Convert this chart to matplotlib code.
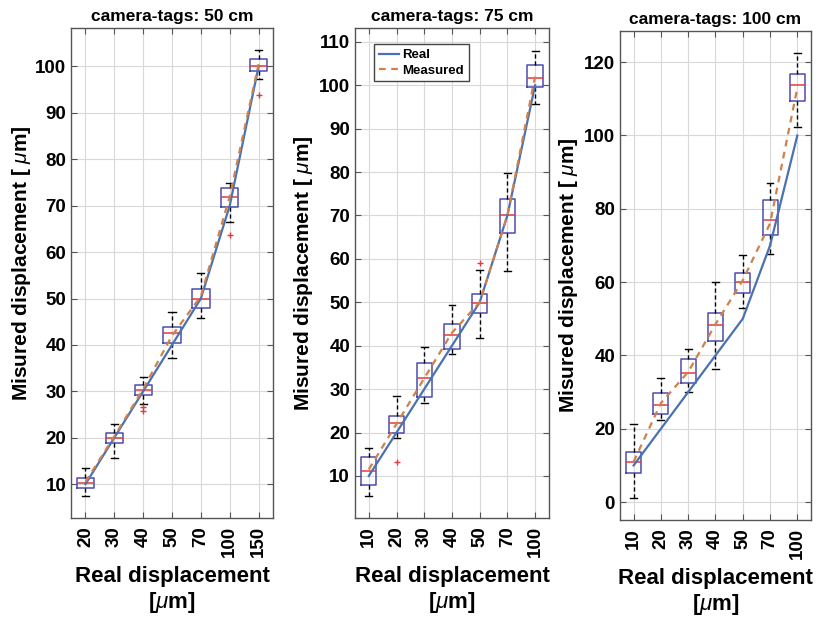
import numpy as np
import matplotlib.pyplot as plt

plt.rcParams['font.family'] = ['Liberation Sans', 'DejaVu Sans']
plt.rcParams['mathtext.fontset'] = 'custom'
plt.rcParams['mathtext.it'] = 'Liberation Sans:italic'

# x tick labels of each distance
labels_50 = ['20', '30', '40', '50', '70', '100', '150']
labels_75 = ['10', '20', '30', '40', '50', '70', '100']
labels_100 = ['10', '20', '30', '40', '50', '70', '100']

real_vals = [10, 20, 30, 40, 50, 70, 100]

# 50 cm
med_50 = [10.3, 20.0, 30.3, 42.5, 50.0, 71.8, 100.0]
q1_50 = [9.2, 18.8, 29.2, 40.4, 48.0, 69.7, 99.0]
q3_50 = [11.3, 21.0, 31.3, 43.8, 52.0, 73.8, 101.6]
lo_50 = [7.4, 15.6, 27.2, 37.2, 45.8, 66.5, 97.3]
hi_50 = [13.4, 23.0, 33.0, 47.0, 55.5, 75.0, 103.5]
fl_50 = [[], [], [25.7, 26.6], [], [], [63.7], [93.8]]
meas_50 = [10.5, 20.3, 30.5, 42.0, 50.5, 72.0, 100.5]

# 75 cm
med_75 = [11.2, 22.2, 32.6, 42.5, 49.9, 70.1, 101.7]
q1_75 = [7.9, 19.9, 28.2, 39.3, 47.6, 66.0, 99.6]
q3_75 = [14.4, 23.8, 36.0, 45.0, 51.9, 73.8, 104.7]
lo_75 = [5.4, 18.8, 26.8, 38.0, 41.8, 57.2, 95.7]
hi_75 = [16.4, 28.4, 39.7, 49.4, 57.5, 79.8, 107.9]
fl_75 = [[], [13.2], [], [], [59.0], [], []]
meas_75 = [11.5, 22.0, 32.5, 43.0, 50.0, 70.0, 102.0]

# 100 cm
med_100 = [10.9, 26.5, 35.2, 48.3, 60.0, 76.9, 113.8]
q1_100 = [7.9, 24.0, 32.5, 43.9, 57.0, 72.9, 109.4]
q3_100 = [13.7, 29.7, 39.0, 51.6, 62.5, 82.4, 116.8]
lo_100 = [1.1, 22.4, 30.0, 36.3, 52.9, 67.7, 102.3]
hi_100 = [21.3, 33.8, 41.7, 60.0, 67.4, 87.0, 122.5]
fl_100 = [[], [], [], [], [], [], []]
meas_100 = [11.0, 27.0, 35.5, 48.5, 60.5, 76.0, 113.0]

BOX = '#4b4bb0'
MED = '#e03c3c'
REAL = '#4a72b0'
MEAS = '#d0804a'


def draw(ax, labels, med, q1, q3, lo, hi, fl, meas, title, ylim, yticks,
         width=0.55):
    stats = []
    for i in range(len(med)):
        stats.append(dict(med=med[i], q1=q1[i], q3=q3[i],
                          whislo=lo[i], whishi=hi[i], fliers=fl[i]))
    pos = np.arange(1, len(med) + 1)
    ax.bxp(stats, positions=pos, widths=width, capwidths=0.25,
           boxprops=dict(color=BOX, lw=1.1),
           medianprops=dict(color=MED, lw=1.1),
           whiskerprops=dict(color='black', lw=1.0, ls=(0, (3, 2))),
           capprops=dict(color='black', lw=1.0),
           flierprops=dict(marker='+', markeredgecolor=MED, markersize=5,
                           markeredgewidth=1.0, ls='none'))
    ax.plot(pos, real_vals, color=REAL, lw=1.6, label='Real', zorder=4)
    ax.plot(pos, meas, color=MEAS, lw=1.6, ls=(0, (3, 2.5)),
            label='Measured', zorder=5)
    ax.set_xlim(0.5, len(med) + 0.5)
    ax.set_xticks(pos)
    ax.set_xticklabels(labels, rotation=90, fontweight='bold', fontsize=13.5)
    ax.set_ylim(*ylim)
    ax.set_yticks(yticks)
    ax.set_yticklabels([str(t) for t in yticks], fontweight='bold',
                       fontsize=13.5)
    ax.grid(True, color='#d8d8d8', lw=0.8, ls='-')
    ax.set_axisbelow(True)
    ax.tick_params(direction='in', top=True, right=True, length=4,
                   color='#555555')
    ax.tick_params(axis='x', pad=6)
    ax.tick_params(axis='y', pad=3.5)
    for s in ax.spines.values():
        s.set_color('#555555')
        s.set_linewidth(1.0)
    ax.set_title(title, fontweight='bold', fontsize=12.5, pad=5)
    ax.set_xlabel('Real displacement\n[$\\mu$m]', fontweight='bold',
                  fontsize=16, labelpad=6, linespacing=1.15)
    ax.set_ylabel('Misured displacement [ $\\mu$m]', fontweight='bold',
                  fontsize=15, labelpad=3)


fig = plt.figure(figsize=(8.24, 6.26), dpi=100)
ax1 = fig.add_axes([0.0862, 0.1725, 0.2451, 0.7828])
ax2 = fig.add_axes([0.4308, 0.1725, 0.2354, 0.7828])
ax3 = fig.add_axes([0.7524, 0.1693, 0.2318, 0.7812])

draw(ax1, labels_50, med_50, q1_50, q3_50, lo_50, hi_50, fl_50, meas_50,
     'camera-tags: 50 cm', (2.7, 108.3), list(range(10, 101, 10)), 0.6)
draw(ax2, labels_75, med_75, q1_75, q3_75, lo_75, hi_75, fl_75, meas_75,
     'camera-tags: 75 cm', (0.3, 113.2), list(range(10, 111, 10)))
draw(ax3, labels_100, med_100, q1_100, q3_100, lo_100, hi_100, fl_100,
     meas_100, 'camera-tags: 100 cm', (-4.9, 128.5), list(range(0, 121, 20)))
ax1.yaxis.set_label_coords(-0.19, 0.52)

leg = ax2.legend(loc='upper left', prop=dict(weight='bold', size=9.5),
                 handlelength=1.5, borderpad=0.35, labelspacing=0.25,
                 handletextpad=0.3, fancybox=False, framealpha=1,
                 edgecolor='#444444', bbox_to_anchor=(0.065, 0.98))
leg.get_frame().set_linewidth(1.0)

fig.savefig('out.png', dpi=100)
